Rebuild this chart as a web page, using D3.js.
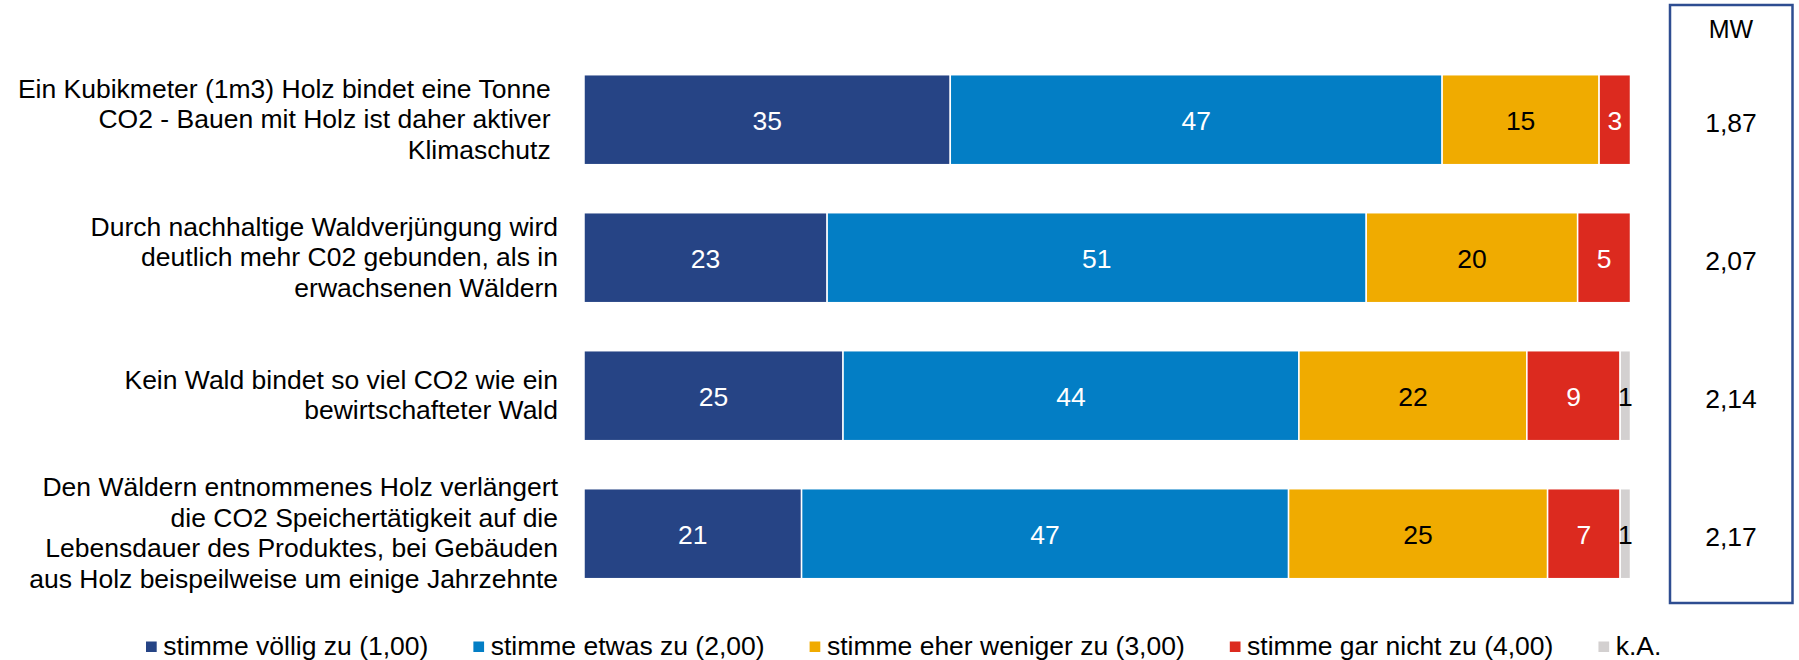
<!DOCTYPE html>
<html>
<head>
<meta charset="utf-8">
<script src="https://cdn.jsdelivr.net/npm/d3@7"></script>
<style>
  body { margin: 0; background: #fff; }
  svg { display: block; font-family: Arial, "Liberation Sans", sans-serif; }
</style>
</head>
<body>
<div id="chart"></div>
<script>
// statements (line breaks as in the original labels)
var categories = [
    "Ein Kubikmeter (1m3) Holz bindet eine Tonne |CO2 - Bauen mit Holz ist daher aktiver |Klimaschutz ",
    "Durch nachhaltige Waldverjüngung wird|deutlich mehr C02 gebunden, als in|erwachsenen Wäldern",
    "Kein Wald bindet so viel CO2 wie ein|bewirtschafteter Wald",
    "Den Wäldern entnommenes Holz verlängert|die CO2 Speichertätigkeit auf die|Lebensdauer des Produktes, bei Gebäuden|aus Holz beispeilweise um einige Jahrzehnte"
];
var seriesNames = ["stimme völlig zu (1,00)", "stimme etwas zu (2,00)", "stimme eher weniger zu (3,00)", "stimme gar nicht zu (4,00)", "k.A."];
var voelligZu = [35, 23, 25, 21];
var etwasZu = [47, 51, 44, 47];
var eherWeniger = [15, 20, 22, 25];
var garNicht = [3, 5, 9, 7];
var keineAngabe = [0, 0, 1, 1];
var mwValues = ["1,87", "2,07", "2,14", "2,17"];
var mwTitle = "MW";

var colors = ["#264485", "#037ec5", "#f0ab00", "#dc2a1f", "#d3d0d0"];
var labelColors = ["#fff", "#fff", "#000", "#fff", "#000"];

var width = 1799, height = 660;
var svg = d3.select("#chart").append("svg").attr("width", width).attr("height", height);

// build rows, each bar is shown as 100%
var series = [voelligZu, etwasZu, eherWeniger, garNicht, keineAngabe];
var rows = categories.map(function (c, i) {
    var row = { cat: i };
    var total = 0;
    series.forEach(function (s) { total += s[i]; });
    series.forEach(function (s, k) { row["s" + k] = s[i] / total; row["v" + k] = s[i]; });
    return row;
});
var keys = series.map(function (s, k) { return "s" + k; });
var stacked = d3.stack().keys(keys)(rows);

var x_scale = d3.scaleLinear().domain([0, 1]).range([584, 1630.5]);
var y_scale = d3.scaleBand()
    .domain(d3.range(categories.length))
    .range([50.7, 602.7])
    .paddingInner(0.348)
    .paddingOuter(0.174);

var fontSize = 26.5;

// bars
var layers = svg.selectAll("g.layer")
    .data(stacked)
    .enter()
    .append("g")
    .attr("class", "layer")
    .attr("fill", function (d, k) { return colors[k]; });

layers.selectAll("rect")
    .data(function (d) { return d; })
    .enter()
    .append("rect")
    .attr("x", function (d) { return x_scale(d[0]); })
    .attr("y", function (d) { return y_scale(d.data.cat); })
    .attr("width", function (d) { return x_scale(d[1]) - x_scale(d[0]); })
    .attr("height", y_scale.bandwidth())
    .attr("stroke", "#fff")
    .attr("stroke-width", 1.5);

// value labels
stacked.forEach(function (layer, k) {
    svg.append("g").selectAll("text")
        .data(layer.filter(function (d) { return d.data["v" + k] > 0; }))
        .enter()
        .append("text")
        .attr("x", function (d) { return (x_scale(d[0]) + x_scale(d[1])) / 2; })
        .attr("y", function (d) { return y_scale(d.data.cat) + y_scale.bandwidth() / 2 + 10.5; })
        .attr("text-anchor", "middle")
        .style("font-size", fontSize + "px")
        .attr("fill", labelColors[k])
        .text(function (d) { return d.data["v" + k]; });
});

// category labels, right aligned
var lineH = 30.5;
categories.forEach(function (c, i) {
    var lines = c.split("|");
    var cy = y_scale(i) + y_scale.bandwidth() / 2;
    var t = svg.append("text")
        .attr("text-anchor", "end")
        .style("font-size", fontSize + "px")
        .style("white-space", "pre")
        .attr("fill", "#000");
    lines.forEach(function (l, j) {
        t.append("tspan")
            .attr("x", 558)
            .attr("y", cy + (j - (lines.length - 1) / 2) * lineH + 8.5)
            .text(l);
    });
});

// MW box
svg.append("rect")
    .attr("x", 1670)
    .attr("y", 5)
    .attr("width", 122.5)
    .attr("height", 598)
    .attr("fill", "none")
    .attr("stroke", "#2e4d91")
    .attr("stroke-width", 2.5);

svg.append("text")
    .attr("x", 1731)
    .attr("y", 37.5)
    .attr("text-anchor", "middle")
    .style("font-size", "25px")
    .text(mwTitle);

svg.append("g").selectAll("text")
    .data(mwValues)
    .enter()
    .append("text")
    .attr("x", 1731)
    .attr("y", function (d, i) { return y_scale(i) + y_scale.bandwidth() / 2 + 12.5; })
    .attr("text-anchor", "middle")
    .style("font-size", fontSize + "px")
    .text(function (d) { return d; });

// legend
var legend = svg.append("g");
var lx = 146;
seriesNames.forEach(function (name, k) {
    legend.append("rect")
        .attr("x", lx)
        .attr("y", 641.5)
        .attr("width", 10.7)
        .attr("height", 10.5)
        .attr("fill", colors[k]);
    var t = legend.append("text")
        .attr("x", lx + 17.3)
        .attr("y", 655)
        .style("font-size", fontSize + "px")
        .text(name);
    lx += 17.3 + t.node().getComputedTextLength() + 45;
});
</script>
</body>
</html>
